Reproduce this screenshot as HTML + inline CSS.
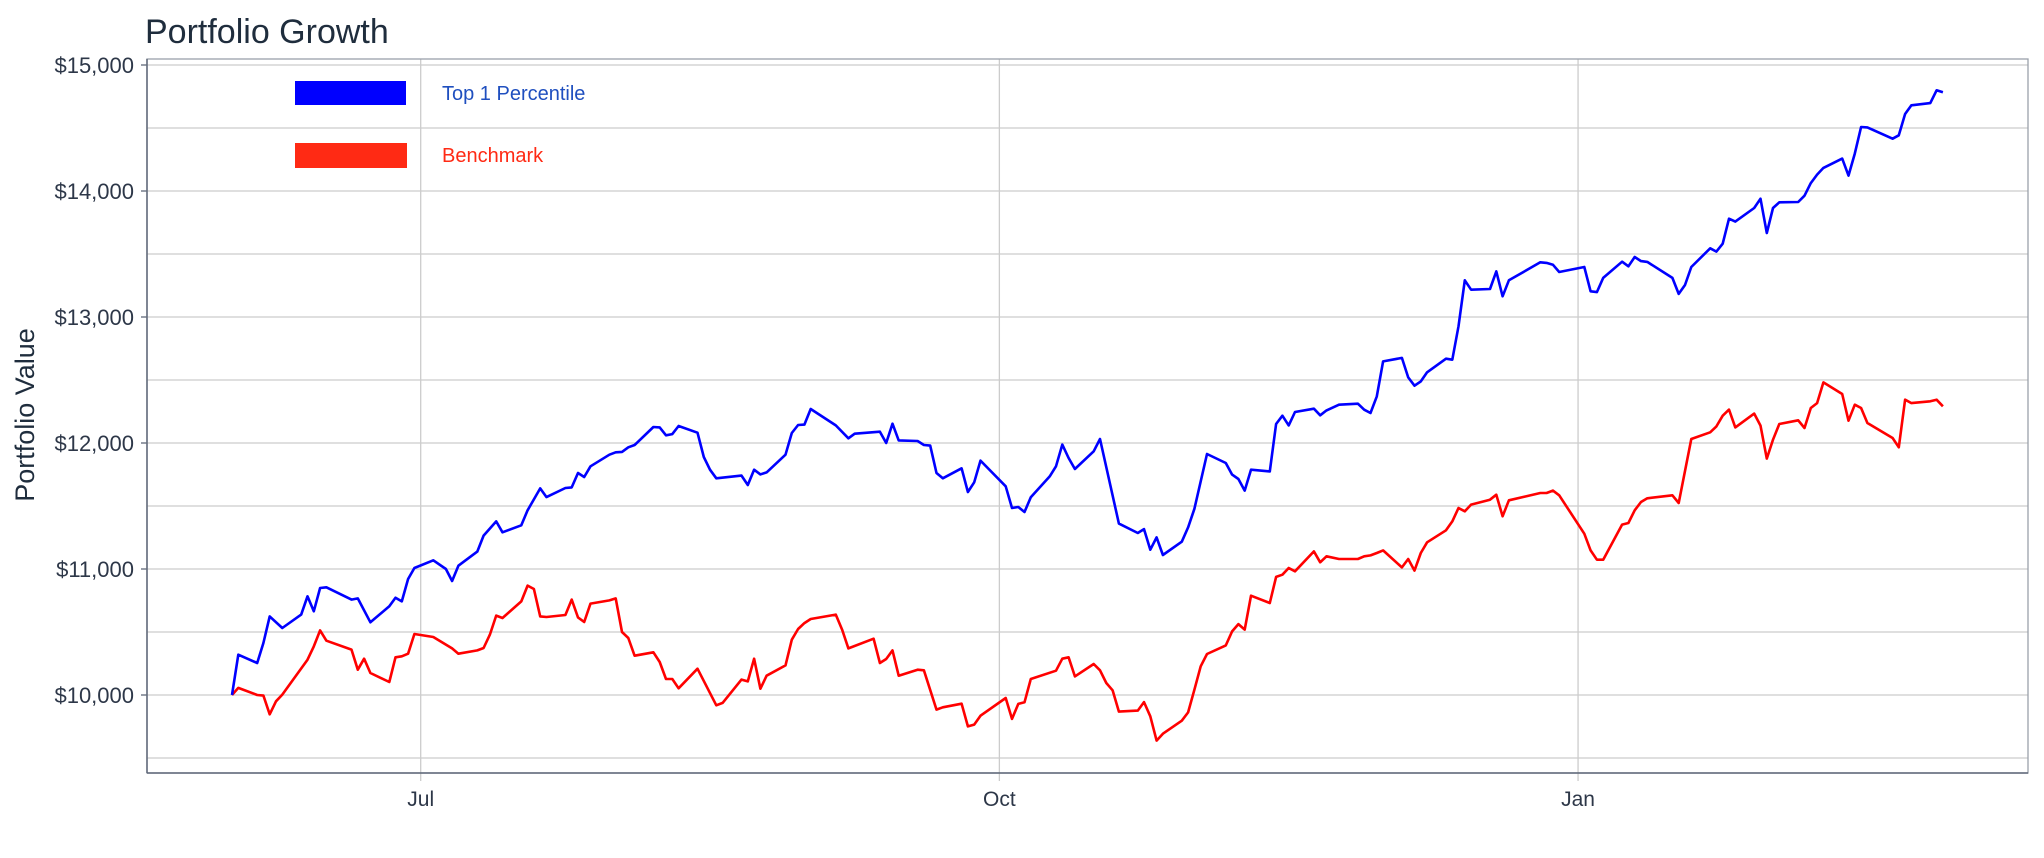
<!DOCTYPE html>
<html><head><meta charset="utf-8"><style>
html,body{margin:0;padding:0;background:#fff;}
svg{display:block;font-family:"Liberation Sans",Arial,sans-serif;}
</style></head><body>
<svg id="chart" width="2044" height="858" viewBox="0 0 2044 858" xmlns="http://www.w3.org/2000/svg">
<text x="145" y="43" font-size="34" fill="#1f2d3d">Portfolio Growth</text>
<text transform="translate(34,415) rotate(-90)" text-anchor="middle" font-size="27" fill="#1f2d3d">Portfolio Value</text>
<g id="grid"></g>
<g id="axes"></g>
<g id="series"></g>
<g>
<g>
<rect x="295" y="81" width="111" height="24" fill="#0000ff"/>
<text x="442" y="100" font-size="20" fill="#1f4fbf">Top 1 Percentile</text>
</g>
<g>
<rect x="295" y="143" width="112" height="25" fill="#ff2a14"/>
<text x="442" y="162" font-size="20" fill="#ff2a14">Benchmark</text>
</g>
</g>
</svg>
<script>
const blueDays=[0,1,4,5,6,8,11,12,13,14,15,19,20,22,25,26,27,28,29,32,34,35,36,39,40,42,43,46,47,49,50,53,54,55,56,57,60,61,62,63,64,67,68,69,70,71,74,75,76,77,81,82,83,84,85,88,89,90,91,92,96,98,99,103,104,105,106,109,110,111,112,113,116,117,118,119,123,124,125,126,127,130,131,132,133,134,137,138,141,144,145,146,147,148,151,152,153,155,158,159,160,161,162,165,166,167,168,169,172,173,174,176,179,180,181,182,183,186,187,188,189,190,193,194,195,196,197,200,201,202,203,208,209,210,211,215,216,217,218,221,222,223,224,225,229,230,231,232,235,236,237,238,239,242,243,244,245,246,249,250,251,252,253,256,257,258,259,260,264,265,266,267,270,271,272];
const blueValues=[10000,10320,10254,10413,10624,10532,10638,10783,10664,10849,10855,10757,10767,10577,10704,10772,10743,10921,11008,11069,11000,10905,11026,11138,11265,11378,11291,11347,11466,11640,11571,11643,11648,11762,11730,11815,11907,11926,11929,11966,11984,12127,12124,12061,12071,12135,12082,11889,11788,11720,11741,11667,11788,11751,11767,11907,12079,12143,12146,12270,12140,12037,12074,12090,12000,12153,12021,12016,11984,11979,11762,11720,11799,11611,11688,11860,11656,11484,11492,11452,11569,11735,11815,11987,11881,11794,11934,12032,11360,11286,11317,11153,11251,11111,11217,11330,11478,11913,11841,11749,11714,11622,11788,11775,12151,12217,12140,12246,12272,12220,12259,12304,12312,12264,12238,12370,12648,12675,12521,12455,12489,12561,12669,12661,12926,13291,13217,13222,13362,13164,13291,13434,13429,13415,13357,13397,13204,13198,13310,13439,13402,13476,13444,13437,13310,13183,13254,13397,13545,13519,13582,13780,13757,13865,13939,13667,13865,13910,13913,13963,14063,14130,14183,14257,14122,14297,14508,14505,14415,14442,14611,14680,14698,14799,14783];
const redDays=[0,1,4,5,6,7,8,12,13,14,15,19,20,21,22,25,26,27,28,29,32,35,36,39,40,41,42,43,46,47,48,49,50,53,54,55,56,57,60,61,62,63,64,67,68,69,70,71,74,77,78,81,82,83,84,85,88,89,90,91,92,96,97,98,102,103,104,105,106,109,110,112,113,116,117,118,119,123,124,125,126,127,131,132,133,134,137,138,139,140,141,144,145,146,147,148,151,152,153,154,155,158,159,160,161,162,165,166,167,168,169,172,173,174,176,179,180,181,182,183,186,187,188,189,190,193,194,195,196,197,200,201,202,203,208,209,210,211,215,216,217,218,221,222,223,224,225,229,230,232,235,236,237,238,239,242,243,244,245,246,249,250,251,252,253,256,257,258,259,260,264,265,266,267,270,271,272];
const redValues=[10000,10056,10000,9995,9847,9950,10003,10280,10386,10513,10431,10360,10201,10288,10175,10103,10299,10307,10328,10484,10460,10370,10328,10354,10373,10479,10630,10611,10743,10868,10841,10624,10619,10635,10757,10616,10579,10725,10751,10767,10500,10452,10312,10339,10262,10127,10127,10053,10209,9918,9937,10122,10108,10288,10050,10153,10235,10439,10524,10571,10603,10638,10519,10370,10447,10254,10286,10354,10153,10201,10196,9884,9902,9931,9751,9765,9836,9976,9810,9929,9942,10127,10193,10288,10299,10148,10246,10196,10095,10037,9868,9876,9944,9831,9638,9693,9796,9862,10042,10228,10325,10394,10505,10563,10519,10788,10730,10937,10955,11008,10982,11140,11053,11101,11079,11079,11101,11108,11127,11148,11013,11079,10987,11127,11212,11307,11378,11484,11458,11511,11550,11590,11418,11545,11603,11603,11622,11585,11280,11148,11074,11074,11352,11365,11466,11532,11561,11585,11524,12032,12085,12132,12217,12265,12124,12233,12138,11876,12026,12151,12180,12119,12278,12317,12481,12389,12177,12304,12278,12159,12040,11966,12344,12317,12331,12344,12291];
const yTickValues=[10000,11000,12000,13000,14000,15000];
const yTickLabels=["$10,000","$11,000","$12,000","$13,000","$14,000","$15,000"];
const yGridValues=[9500,10000,10500,11000,11500,12000,12500,13000,13500,14000,14500,15000];
const xTickDays=[30,122,214];
const xTickLabels=["Jul","Oct","Jan"];

const L=147,R=2028,T=59,B=773;
const NS="http://www.w3.org/2000/svg";
function xs(d){return 232+d*6.29;}
function ys(v){return 695-(v-10000)*0.126;}
function mk(tag,attrs,parent){const e=document.createElementNS(NS,tag);for(const k in attrs)e.setAttribute(k,attrs[k]);parent.appendChild(e);return e;}
const grid=document.getElementById('grid'),axes=document.getElementById('axes'),series=document.getElementById('series');
yGridValues.forEach(v=>{
  const l=mk('line',{x1:L,x2:R,y1:ys(v),y2:ys(v),stroke:'#cccccc','stroke-width':1.3},grid);
  
  
});
xTickDays.forEach((d,i)=>{
  const l=mk('line',{x1:xs(d),x2:xs(d),y1:T,y2:B+8,stroke:'#cccccc','stroke-width':1.3},grid);
  
  
  const t=mk('text',{x:xs(d),y:806,'text-anchor':'middle','font-size':21,fill:'#2d3748'},axes);
  t.textContent=xTickLabels[i];
  
  
});
yTickValues.forEach((v,i)=>{
  mk('line',{x1:L-6,x2:L,y1:ys(v),y2:ys(v),stroke:'#5f6878','stroke-width':1.3},axes);
  const t=mk('text',{x:L-13,y:ys(v)+8,'text-anchor':'end','font-size':22,fill:'#2d3748'},axes);
  t.textContent=yTickLabels[i];
  
  
});
const frame=mk('rect',{x:L,y:T,width:R-L,height:B-T,fill:'none',stroke:'#9aa0aa','stroke-width':1.3},axes);


mk('line',{x1:L,x2:L,y1:T,y2:B,stroke:'#5f6878','stroke-width':1.5},axes);
mk('line',{x1:L,x2:R,y1:B,y2:B,stroke:'#5f6878','stroke-width':1.5},axes);
function path(days,vals){return days.map((d,i)=>(i?'L':'M')+xs(d).toFixed(1)+','+ys(vals[i]).toFixed(1)).join('');}
const rp=mk('path',{d:path(redDays,redValues),fill:'none',stroke:'#ff0000','stroke-width':2.6,'stroke-linejoin':'round'},series);


const bp=mk('path',{d:path(blueDays,blueValues),fill:'none',stroke:'#0000ff','stroke-width':2.6,'stroke-linejoin':'round'},series);


</script>
</body></html>
